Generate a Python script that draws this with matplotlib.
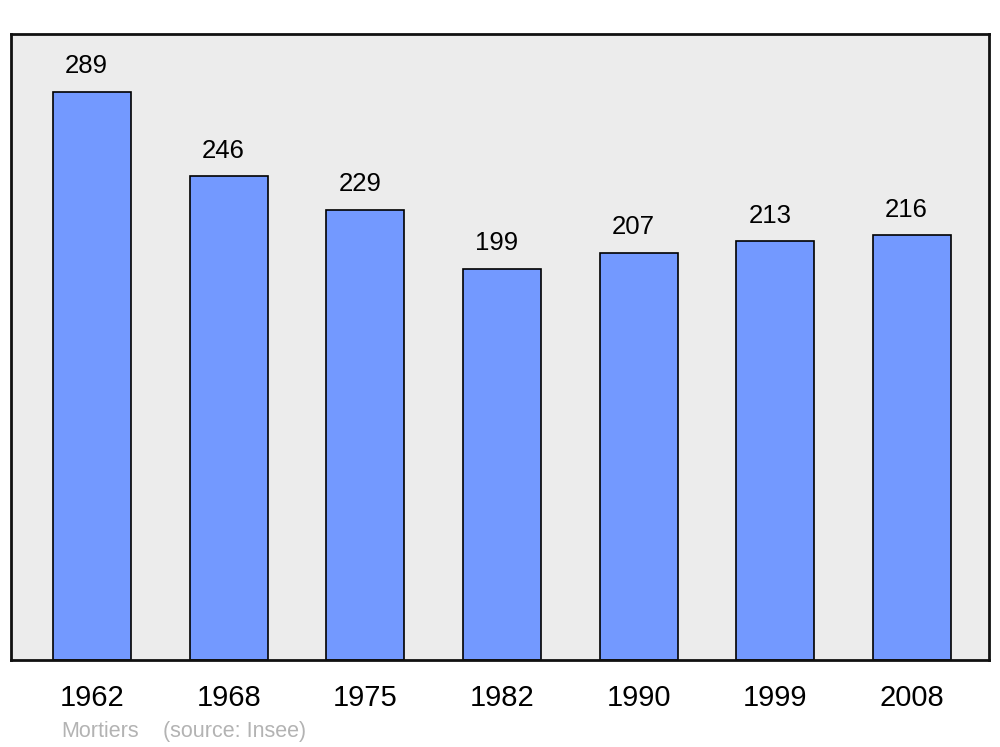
import matplotlib
matplotlib.use("Agg")
import matplotlib.pyplot as plt
import numpy as np

years = ["1962", "1968", "1975", "1982", "1990", "1999", "2008"]
population = [289, 246, 229, 199, 207, 213, 216]
commune = "Mortiers"
source = "(source: Insee)"

plt.rcParams['font.family'] = ['Liberation Sans', 'DejaVu Sans']

fig = plt.figure(figsize=(10, 7.47), dpi=100)
ax = fig.add_axes([0.011, 0.1165, 0.978, 0.838])
ax.set_facecolor('#ececec')

x = np.arange(len(years))
ax.bar(x, population, width=0.57, color='#7399ff', edgecolor='black', linewidth=1.2, zorder=2)

for xi, v in zip(x, population):
    ax.annotate(str(v), (xi, v), xytext=(-4, 13.5), textcoords='offset points',
                ha='center', va='baseline', fontsize=18.5)

ax.set_xlim(-0.593, 6.563)
ax.set_ylim(0, 318.5)
ax.set_yticks([])
ax.set_xticks(x)
ax.set_xticklabels(years, fontsize=21)
ax.tick_params(axis='x', length=0, pad=17)
for s in ax.spines.values():
    s.set_linewidth(2)
    s.set_color('#111111')

fig.text(0.061, 1 - 737 / 747, commune, color='#b3b3b3', fontsize=15.5, va='baseline')
fig.text(0.163, 1 - 737 / 747, source, color='#b3b3b3', fontsize=15.5, va='baseline')

fig.savefig('out.png', dpi=100)
